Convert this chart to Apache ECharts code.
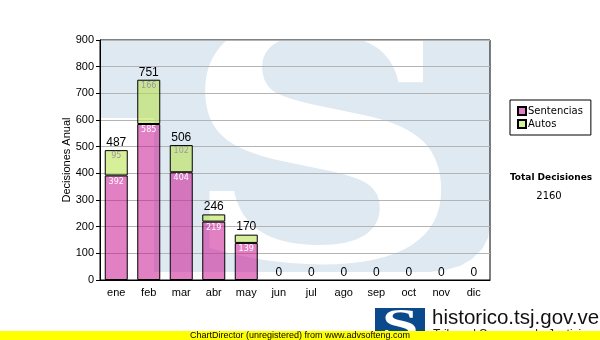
<!DOCTYPE html>
<html><head><meta charset="utf-8">
<script src="https://cdn.jsdelivr.net/npm/echarts@6/dist/echarts.min.js"></script>
<style>html,body{margin:0;padding:0;background:#fff}#c{width:600px;height:340px}</style>
</head><body><div id="c"></div>
<script>
const categories = ['ene','feb','mar','abr','may','jun','jul','ago','sep','oct','nov','dic'];
const sentencias = [392,585,404,219,139,0,0,0,0,0,0,0];
const autos = [95,166,102,27,31,0,0,0,0,0,0,0];
const totals = [487,751,506,246,170,0,0,0,0,0,0,0];
const yMin = 0, yMax = 900, yStep = 100;
const seriesNames = ['Sentencias','Autos'];
const totalTitle = 'Total Decisiones';
const totalValue = '2160';
const yTitle = 'Decisiones Anual';

const chart = echarts.init(document.getElementById('c'), null, {renderer:'canvas'});
const SANS = 'Liberation Sans, Arial, sans-serif';
const DV = 'DejaVu Sans, Verdana, sans-serif';
const hideZero = arr => arr.map(v => v === 0 ? null : v);
chart.setOption({
  animation:false,
  grid:{left:100, top:40, width:390, height:240, show:true, borderColor:'#000', borderWidth:1, backgroundColor:'transparent'},
  legend:{
    orient:'vertical', left:510, top:100, itemWidth:8, itemHeight:8, itemGap:3,
    padding:[6,8,6,7], borderColor:'#000', borderWidth:1, icon:'rect',
    textStyle:{fontFamily:DV, fontSize:10, color:'#000', padding:[0,0,0,-3]},
    data:seriesNames
  },
  xAxis:{
    type:'category', data:categories,
    axisLine:{lineStyle:{color:'#000'}},
    axisTick:{alignWithLabel:true, length:4, lineStyle:{color:'#000'}},
    axisLabel:{color:'#000', fontFamily:SANS, fontSize:11, margin:7}
  },
  yAxis:{
    type:'value', min:yMin, max:yMax, interval:yStep,
    name:yTitle, nameLocation:'middle', nameRotate:90, nameGap:28, nameMoveOverlap:false,
    nameTextStyle:{fontFamily:SANS, fontSize:11, color:'#000'},
    axisLine:{show:true, lineStyle:{color:'#000'}},
    axisTick:{show:true, length:4, lineStyle:{color:'#000'}},
    axisLabel:{color:'#000', fontFamily:SANS, fontSize:11, margin:6},
    splitLine:{lineStyle:{color:'#b4b4b4', width:1}}
  },
  graphic:[
    {type:'polygon', z:-10, silent:true,
     shape:{points:[[100,40],[490,40],[490,225],[488,238],[482,249],[472,259],[460,266],[445,270],[430,272],[154,272],[154,118],[100,118]]},
     style:{fill:'#dee9f2'}},
    {type:'text', z:-9, silent:true, x:322, y:174, scaleX:1.2, scaleY:1,
     style:{text:'S', fill:'#ffffff', font:'bold 330px "DejaVu Serif", serif', textAlign:'center', textVerticalAlign:'middle'}},
    {type:'text', silent:true, x:551, y:178,
     style:{text:totalTitle, fill:'#000', font:'bold 9px "DejaVu Sans"', textAlign:'center', textVerticalAlign:'middle'}},
    {type:'text', silent:true, x:549, y:196,
     style:{text:totalValue, fill:'#000', font:'10px "DejaVu Sans"', textAlign:'center', textVerticalAlign:'middle'}},
    {type:'rect', z:50, silent:true, shape:{x:375, y:308, width:50, height:32}, style:{fill:'#0a4a8c'}},
    {type:'text', z:51, silent:true, x:400, y:328, scaleX:1.5,
     style:{text:'S', fill:'#fff', font:'bold 44px "Liberation Serif", serif', textAlign:'center', textVerticalAlign:'middle'}},
    {type:'text', z:50, silent:true, x:432, y:318,
     style:{text:'historico.tsj.gov.ve', fill:'#111', font:'20.5px "Liberation Sans"', textAlign:'left', textVerticalAlign:'middle'}},
    {type:'text', z:50, silent:true, x:433, y:335,
     style:{text:'Tribunal Supremo de Justicia', fill:'#222', font:'12px "Liberation Sans"', textAlign:'left', textVerticalAlign:'middle'}},
    {type:'rect', z:60, silent:true, shape:{x:0, y:331, width:600, height:9}, style:{fill:'#ffff00'}},
    {type:'text', z:61, silent:true, x:300, y:335.5,
     style:{text:'ChartDirector (unregistered) from www.advsofteng.com', fill:'#000', font:'9px "Liberation Sans"', textAlign:'center', textVerticalAlign:'middle'}}
  ],
  series:[
    {name:seriesNames[0], type:'bar', stack:'t', data:hideZero(sentencias), barWidth:23,
     itemStyle:{color:'rgba(202,24,148,0.55)', borderColor:'#000', borderWidth:1},
     label:{show:true, position:'insideTop', distance:2, color:'#fff', fontFamily:DV, fontSize:8,
       formatter:p=>p.value>=40?String(p.value):''}},
    {name:seriesNames[1], type:'bar', stack:'t', data:hideZero(autos), barWidth:23,
     itemStyle:{color:'rgba(184,226,71,0.55)', borderColor:'#000', borderWidth:1},
     label:{show:true, position:'insideTop', distance:2, color:'#999', fontFamily:DV, fontSize:8,
       formatter:p=>p.value>=40?String(p.value):''}},
    {name:'total', type:'line', data:totals, symbol:'circle', symbolSize:1, showSymbol:true,
     itemStyle:{color:'rgba(0,0,0,0)'}, lineStyle:{opacity:0}, silent:true, legendHoverLink:false,
     label:{show:true, position:'top', distance:1, color:'#000', fontFamily:SANS, fontSize:12,
       formatter:p=>String(p.value)}}
  ]
});
</script></body></html>
